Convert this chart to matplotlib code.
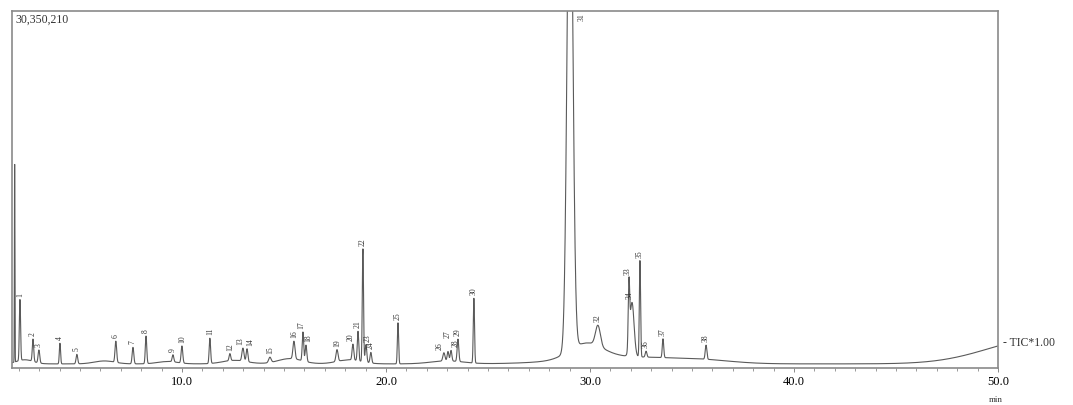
import numpy as np
import matplotlib
matplotlib.use("Agg")
import matplotlib.pyplot as plt

# пики: время удерживания (мин), высота (млн. отсчётов), ширина (сигма, мин), номер
peak_rt = [1.80, 2.06, 2.70, 2.99, 4.02, 4.85, 6.76, 7.60, 8.24, 9.56,
           10.00, 11.37, 12.35, 12.99, 13.19, 14.31, 15.49, 15.93, 16.08, 17.60,
           18.38, 18.63, 18.87, 19.02, 19.26, 20.59, 22.84, 23.04, 23.19, 23.53,
           24.31, 29.02, 30.39, 31.91, 32.06, 32.45, 32.75, 33.58, 35.69]
peak_h = [17.3, 5.2, 1.9, 1.1, 1.75, 0.8, 1.8, 1.4, 2.35, 0.6,
          1.45, 2.15, 0.6, 1.1, 1.1, 0.45, 1.5, 2.45, 1.4, 1.0,
          1.35, 2.5, 9.6, 1.5, 0.9, 3.5, 0.7, 0.8, 0.9, 1.9,
          5.5, 46.0, 1.75, 5.2, 4.6, 8.2, 0.5, 1.6, 1.2]
peak_w = [0.012, 0.03, 0.035, 0.04, 0.03, 0.04, 0.04, 0.04, 0.035, 0.04,
          0.04, 0.035, 0.04, 0.05, 0.04, 0.06, 0.05, 0.035, 0.04, 0.05,
          0.04, 0.035, 0.03, 0.04, 0.04, 0.03, 0.05, 0.04, 0.04, 0.04,
          0.03, 0.136, 0.12, 0.035, 0.10, 0.03, 0.04, 0.035, 0.04]
peak_lbl = ["", "1", "2", "3", "4", "5", "6", "7", "8", "9",
            "10", "11", "12", "13", "14", "15", "16", "17", "18", "19",
            "20", "21", "22", "23", "24", "25", "26", "27", "28", "29",
            "30", "31", "32", "33", "34", "35", "36", "37", "38"]

# широкие "горбы" базовой линии
hump_rt = [2.3, 6.2, 9.3, 12.6, 15.3, 18.2, 23.0, 29.8, 31.5, 35.5, 52.0]
hump_h = [0.35, 0.25, 0.2, 0.3, 0.45, 0.35, 0.25, 1.3, 0.6, 0.25, 2.1]
hump_w = [0.4, 0.5, 0.5, 0.6, 0.6, 0.6, 0.8, 0.8, 2.5, 1.5, 2.5]
base_level = 0.35
full_scale = 30.350210  # млн.

t = np.linspace(1.67, 50.0, 8000)
sig = np.full_like(t, base_level)
for rt, h, w in zip(peak_rt + hump_rt, peak_h + hump_h, peak_w + hump_w):
    sig += h * np.exp(-0.5 * ((t - rt) / w) ** 2)

serif = "Liberation Serif"
grey = "#8a8a8a"
# сдвиг подписей для тесно стоящих пиков (мин, млн.)
nudge = {"13": (-0.12, 0.0), "14": (0.14, 0.0), "26": (-0.2, 0.0),
         "27": (0.0, 0.9), "28": (0.22, 0.0), "17": (-0.08, 0.0), "18": (0.12, 0.0),
         "20": (-0.1, 0.0), "23": (0.1, 0.0), "33": (-0.08, 0.0), "34": (-0.12, 0.0)}

fig = plt.figure(figsize=(10.73, 4.05), dpi=100)
ax = fig.add_axes([12 / 1073, 37 / 405, 986 / 1073, 357 / 405])
ax.plot(t, sig, color="#5a5a5a", lw=0.8)
ax.set_xlim(1.67, 50.0)
ax.set_ylim(0, full_scale)

for s in ax.spines.values():
    s.set_color(grey)
    s.set_linewidth(1.2)

ax.set_yticks([])
ax.set_xticks([10, 20, 30, 40, 50])
ax.set_xticklabels(["10.0", "20.0", "30.0", "40.0", "50.0"], family=serif, fontsize=9)
ax.set_xticks(np.arange(2, 50, 1), minor=True)
ax.tick_params(axis="x", which="major", direction="out", length=3, width=0.7, color=grey, pad=3)
ax.tick_params(axis="x", which="minor", direction="out", length=1.8, width=0.6, color=grey)

# номера пиков
for rt, h, lbl in zip(peak_rt, peak_h, peak_lbl):
    if not lbl or lbl == "31":
        continue
    top = sig[np.argmin(np.abs(t - rt))]
    dx, dy = nudge.get(lbl, (0.0, 0.0))
    ax.text(rt + dx, top + 0.25 + dy, lbl, rotation=90, ha="center", va="bottom",
            family=serif, fontsize=5.5, color="#333333")
ax.text(29.6, full_scale - 0.2, "31", rotation=90, ha="center", va="top",
        family=serif, fontsize=5.5, color="#333333")

ax.text(0.003, 0.993, "30,350,210", transform=ax.transAxes, ha="left", va="top",
        family=serif, fontsize=8.5, color="#333333")
ax.text(50.25, 2.1, "- TIC*1.00", ha="left", va="center", family=serif,
        fontsize=8.5, color="#333333", clip_on=False)
ax.text(49.9, -2.75, "min", ha="center", va="center", family=serif,
        fontsize=6.5, color="#333333", clip_on=False)

fig.savefig("out.png", dpi=100)
